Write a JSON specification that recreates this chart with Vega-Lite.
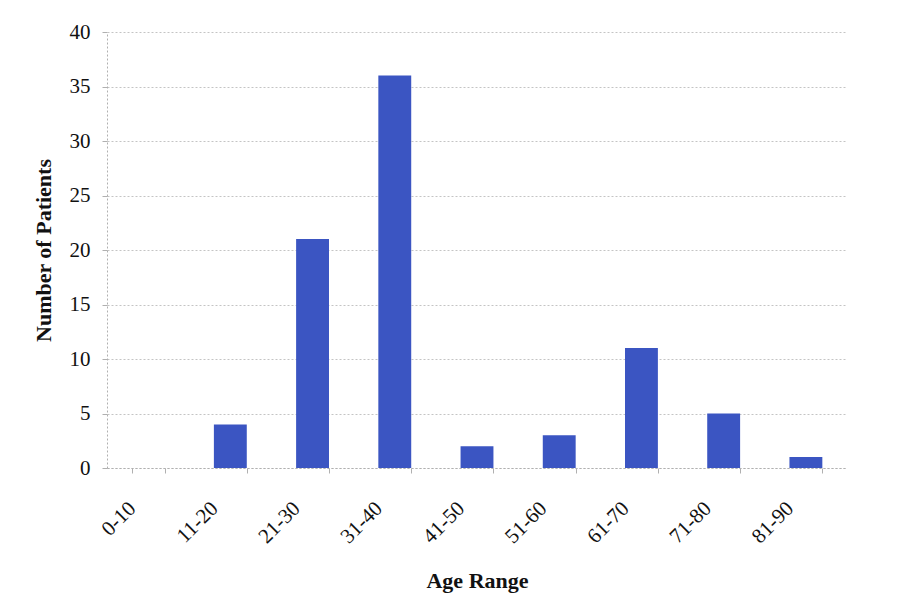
{
  "$schema": "https://vega.github.io/schema/vega-lite/v6.json",
  "autosize": "none",
  "width": 740,
  "height": 436,
  "padding": {"left": 107, "top": 32, "right": 54, "bottom": 144},
  "background": "white",
  "config": {
    "view": {"stroke": null},
    "font": "Liberation Serif",
    "axis": {
      "labelFont": "Liberation Serif",
      "titleFont": "Liberation Serif",
      "labelColor": "#111111",
      "titleColor": "#111111",
      "domainColor": "#b0b0b0",
      "domainDash": [2, 2],
      "tickColor": "#b0b0b0",
      "gridColor": "#c4c4c4",
      "gridDash": [2, 2]
    }
  },
  "data": {
    "values": [
      {"age": "0-10", "patients": 0},
      {"age": "11-20", "patients": 4},
      {"age": "21-30", "patients": 21},
      {"age": "31-40", "patients": 36},
      {"age": "41-50", "patients": 2},
      {"age": "51-60", "patients": 3},
      {"age": "61-70", "patients": 11},
      {"age": "71-80", "patients": 5},
      {"age": "81-90", "patients": 1}
    ]
  },
  "mark": {"type": "bar", "color": "#3b55c2"},
  "encoding": {
    "x": {
      "field": "age",
      "type": "ordinal",
      "sort": null,
      "scale": {"paddingInner": 0.6, "paddingOuter": 0.3},
      "axis": {
        "title": "Age Range",
        "titleFontSize": 22,
        "titleFontWeight": "bold",
        "titlePadding": 24,
        "labelAngle": -45,
        "labelAlign": "right",
        "labelBaseline": "middle",
        "labelFontSize": 21,
        "labelPadding": 32,
        "labelOffset": -16,
        "tickSize": 5,
        "tickBand": "extent",
        "grid": false
      }
    },
    "y": {
      "field": "patients",
      "type": "quantitative",
      "scale": {"domain": [0, 40]},
      "axis": {
        "title": "Number of Patients",
        "titleFontSize": 22,
        "titleFontWeight": "bold",
        "titlePadding": 14,
        "values": [0, 5, 10, 15, 20, 25, 30, 35, 40],
        "labelFontSize": 21,
        "labelPadding": 12,
        "tickSize": 5,
        "grid": true
      }
    }
  }
}
